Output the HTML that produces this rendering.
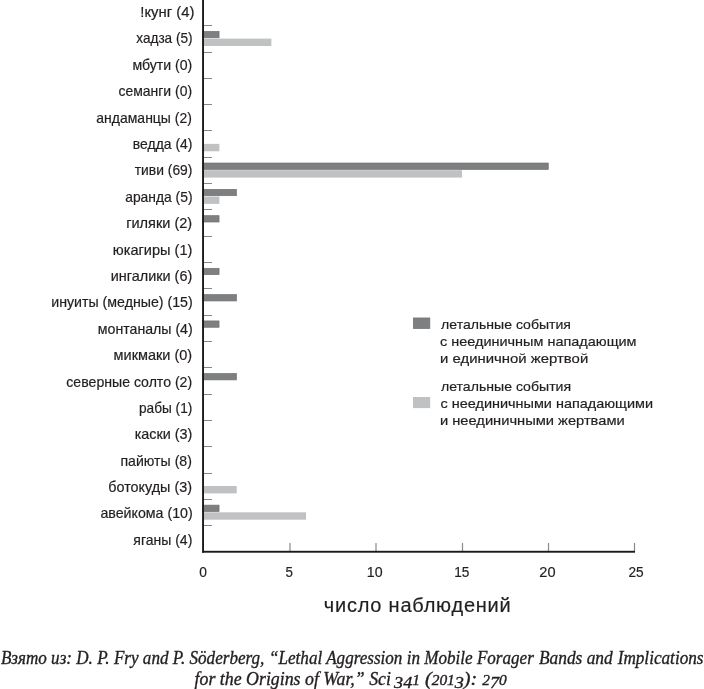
<!DOCTYPE html>
<html><head><meta charset="utf-8"><style>
html,body{margin:0;padding:0;background:#fff;}
body{width:704px;height:689px;overflow:hidden;position:relative;}
svg{position:absolute;left:0;top:0;will-change:transform;}
text{fill:#231f20;white-space:pre;stroke:#231f20;stroke-width:0.2px;}
.lab{font-family:"Liberation Sans",sans-serif;font-size:14.4px;}
.tk{font-family:"Liberation Sans",sans-serif;font-size:14.5px;}
.ttl{font-family:"Liberation Sans",sans-serif;font-size:20px;}
.lg{font-family:"Liberation Sans",sans-serif;font-size:13.6px;}
.osf{font-size:14px;}
.osd{font-size:16.5px;}
.cap{font-family:"Liberation Serif",serif;font-style:italic;font-size:18.3px;stroke:#231f20;stroke-width:0.35px;}
</style></head><body>
<svg width="704" height="689" viewBox="0 0 704 689">
<rect x="202.42" y="31.45" width="16.63" height="6.33" fill="#7e7f81" stroke="#6f7072" stroke-width="0.7"/>
<rect x="202.42" y="163.03" width="345.82" height="6.33" fill="#7e7f81" stroke="#6f7072" stroke-width="0.7"/>
<rect x="202.42" y="189.35" width="33.95" height="6.33" fill="#7e7f81" stroke="#6f7072" stroke-width="0.7"/>
<rect x="202.42" y="215.67" width="16.63" height="6.33" fill="#7e7f81" stroke="#6f7072" stroke-width="0.7"/>
<rect x="202.42" y="268.30" width="16.63" height="6.33" fill="#7e7f81" stroke="#6f7072" stroke-width="0.7"/>
<rect x="202.42" y="294.61" width="33.95" height="6.33" fill="#7e7f81" stroke="#6f7072" stroke-width="0.7"/>
<rect x="202.42" y="320.93" width="16.63" height="6.33" fill="#7e7f81" stroke="#6f7072" stroke-width="0.7"/>
<rect x="202.42" y="373.56" width="33.95" height="6.33" fill="#7e7f81" stroke="#6f7072" stroke-width="0.7"/>
<rect x="202.42" y="505.14" width="16.63" height="6.33" fill="#7e7f81" stroke="#6f7072" stroke-width="0.7"/>
<rect x="202.07" y="38.61" width="69.30" height="7.39" fill="#c0c1c3"/>
<rect x="202.07" y="143.88" width="17.33" height="7.39" fill="#c0c1c3"/>
<rect x="202.07" y="170.19" width="259.89" height="7.39" fill="#c0c1c3"/>
<rect x="202.07" y="196.51" width="17.33" height="7.39" fill="#c0c1c3"/>
<rect x="202.07" y="485.99" width="34.65" height="7.39" fill="#c0c1c3"/>
<rect x="202.07" y="512.30" width="103.96" height="7.39" fill="#c0c1c3"/>
<rect x="204" y="25" width="8" height="1" fill="#888"/>
<rect x="204" y="52" width="8" height="1" fill="#888"/>
<rect x="204" y="78" width="8" height="1" fill="#888"/>
<rect x="204" y="104" width="8" height="1" fill="#888"/>
<rect x="204" y="130" width="8" height="1" fill="#888"/>
<rect x="204" y="157" width="8" height="1" fill="#888"/>
<rect x="204" y="183" width="8" height="1" fill="#888"/>
<rect x="204" y="209" width="8" height="1" fill="#888"/>
<rect x="204" y="236" width="8" height="1" fill="#888"/>
<rect x="204" y="262" width="8" height="1" fill="#888"/>
<rect x="204" y="288" width="8" height="1" fill="#888"/>
<rect x="204" y="315" width="8" height="1" fill="#888"/>
<rect x="204" y="341" width="8" height="1" fill="#888"/>
<rect x="204" y="367" width="8" height="1" fill="#888"/>
<rect x="204" y="394" width="8" height="1" fill="#888"/>
<rect x="204" y="420" width="8" height="1" fill="#888"/>
<rect x="204" y="446" width="8" height="1" fill="#888"/>
<rect x="204" y="473" width="8" height="1" fill="#888"/>
<rect x="204" y="499" width="8" height="1" fill="#888"/>
<rect x="204" y="525" width="8" height="1" fill="#888"/>
<rect x="289.40" y="543" width="1.2" height="8" fill="#8a8a8a"/>
<rect x="375.40" y="543" width="1.2" height="8" fill="#8a8a8a"/>
<rect x="461.90" y="543" width="1.2" height="8" fill="#8a8a8a"/>
<rect x="547.90" y="543" width="1.2" height="8" fill="#8a8a8a"/>
<rect x="633.90" y="543" width="1.2" height="8" fill="#8a8a8a"/>
<rect x="202.1" y="0" width="1.9" height="552.7" fill="#1a1a1a"/>
<rect x="202.1" y="550.8" width="432.9" height="1.9" fill="#1a1a1a"/>
<rect x="413.35" y="317.95" width="16.5" height="10.6" fill="#7e7f81" stroke="#6f7072" stroke-width="0.7"/>
<rect x="413" y="397" width="17.2" height="11.1" fill="#c0c1c3"/>
<text id="l0" class="lab" x="140.32" y="17.05" textLength="54.17" lengthAdjust="spacingAndGlyphs">!кунг (4)</text>
<text id="l1" class="lab" x="136.30" y="43.44" textLength="56.22" lengthAdjust="spacingAndGlyphs">хадза (5)</text>
<text id="l2" class="lab" x="132.42" y="69.83" textLength="59.81" lengthAdjust="spacingAndGlyphs">мбути (0)</text>
<text id="l3" class="lab" x="118.44" y="96.22" textLength="73.66" lengthAdjust="spacingAndGlyphs">семанги (0)</text>
<text id="l4" class="lab" x="96.35" y="122.61" textLength="95.53" lengthAdjust="spacingAndGlyphs">андаманцы (2)</text>
<text id="l5" class="lab" x="132.87" y="149.00" textLength="59.57" lengthAdjust="spacingAndGlyphs">ведда (4)</text>
<text id="l6" class="lab" x="134.79" y="175.39" textLength="57.64" lengthAdjust="spacingAndGlyphs">тиви (69)</text>
<text id="l7" class="lab" x="125.20" y="201.78" textLength="67.32" lengthAdjust="spacingAndGlyphs">аранда (5)</text>
<text id="l8" class="lab" x="126.16" y="228.17" textLength="66.02" lengthAdjust="spacingAndGlyphs">гиляки (2)</text>
<text id="l9" class="lab" x="112.88" y="254.56" textLength="79.48" lengthAdjust="spacingAndGlyphs">юкагиры (1)</text>
<text id="l10" class="lab" x="110.74" y="280.95" textLength="81.47" lengthAdjust="spacingAndGlyphs">ингалики (6)</text>
<text id="l11" class="lab" x="51.24" y="307.34" textLength="141.49" lengthAdjust="spacingAndGlyphs">инуиты (медные) (15)</text>
<text id="l12" class="lab" x="97.84" y="333.73" textLength="94.87" lengthAdjust="spacingAndGlyphs">монтаналы (4)</text>
<text id="l13" class="lab" x="113.60" y="360.12" textLength="78.54" lengthAdjust="spacingAndGlyphs">микмаки (0)</text>
<text id="l14" class="lab" x="66.32" y="386.51" textLength="125.85" lengthAdjust="spacingAndGlyphs">северные солто (2)</text>
<text id="l15" class="lab" x="139.04" y="412.90" textLength="53.26" lengthAdjust="spacingAndGlyphs">рабы (1)</text>
<text id="l16" class="lab" x="134.68" y="439.29" textLength="57.69" lengthAdjust="spacingAndGlyphs">каски (3)</text>
<text id="l17" class="lab" x="120.49" y="465.68" textLength="71.40" lengthAdjust="spacingAndGlyphs">пайюты (8)</text>
<text id="l18" class="lab" x="108.27" y="492.07" textLength="83.74" lengthAdjust="spacingAndGlyphs">ботокуды (3)</text>
<text id="l19" class="lab" x="100.43" y="518.46" textLength="92.30" lengthAdjust="spacingAndGlyphs">авейкома (10)</text>
<text id="l20" class="lab" x="133.36" y="544.85" textLength="58.95" lengthAdjust="spacingAndGlyphs">яганы (4)</text>
<text id="t0" class="tk" x="199.36" y="576.80" textLength="7.67" lengthAdjust="spacingAndGlyphs">0</text>
<text id="t5" class="tk" x="285.49" y="576.80" textLength="7.41" lengthAdjust="spacingAndGlyphs">5</text>
<text id="t10" class="tk" x="366.86" y="576.80" textLength="15.80" lengthAdjust="spacingAndGlyphs">10</text>
<text id="t15" class="tk" x="454.24" y="576.80" textLength="15.25" lengthAdjust="spacingAndGlyphs">15</text>
<text id="t20" class="tk" x="539.36" y="576.80" textLength="16.20" lengthAdjust="spacingAndGlyphs">20</text>
<text id="t25" class="tk" x="628.38" y="576.80" textLength="15.22" lengthAdjust="spacingAndGlyphs">25</text>
<text id="title" class="ttl" x="323.77" y="611.70" textLength="186.97" lengthAdjust="spacing">число наблюдений</text>
<text id="g1a" class="lg" x="441.13" y="328.80" textLength="129.87" lengthAdjust="spacingAndGlyphs">летальные события</text>
<text id="g1b" class="lg" x="439.94" y="345.80" textLength="196.62" lengthAdjust="spacingAndGlyphs">с неединичным нападающим</text>
<text id="g1c" class="lg" x="440.14" y="362.80" textLength="148.10" lengthAdjust="spacingAndGlyphs">и единичной жертвой</text>
<text id="g2a" class="lg" x="440.98" y="391.00" textLength="130.15" lengthAdjust="spacingAndGlyphs">летальные события</text>
<text id="g2b" class="lg" x="440.52" y="408.10" textLength="212.51" lengthAdjust="spacingAndGlyphs">с неединичными нападающими</text>
<text id="g2c" class="lg" x="439.96" y="425.00" textLength="184.77" lengthAdjust="spacingAndGlyphs">и неединичными жертвами</text>
<text id="cap1a" class="cap" x="0.90" y="663.60" textLength="263.47" lengthAdjust="spacingAndGlyphs">Взято из: D. P. Fry and P. Söderberg,</text>
<text id="cap1b" class="cap" x="269.04" y="663.60" textLength="264.79" lengthAdjust="spacingAndGlyphs">“Lethal Aggression in Mobile Forager</text>
<text id="cap1c" class="cap" x="538.94" y="663.60" textLength="73.78" lengthAdjust="spacingAndGlyphs">Bands and</text>
<text id="cap1d" class="cap" x="617.67" y="663.60" textLength="85.88" lengthAdjust="spacingAndGlyphs">Implications</text>
<text id="cap2" class="cap" x="194.62" y="684.50" textLength="196.35" lengthAdjust="spacingAndGlyphs">for the Origins of War,” Sci</text>
<text id="cap3" class="cap" x="394.08" y="684.50" textLength="112.75" lengthAdjust="spacingAndGlyphs"><tspan class="osd" dy="3.2">3</tspan><tspan class="osd">4</tspan><tspan class="osf" dy="-3.2">1</tspan> (<tspan class="osf">2</tspan><tspan class="osf">0</tspan><tspan class="osf">1</tspan><tspan class="osd" dy="3.2">3</tspan><tspan dy="-3.2">)</tspan>: <tspan class="osf">2</tspan><tspan class="osd" dy="3.2">7</tspan><tspan class="osf" dy="-3.2">0</tspan></text>
</svg>
</body></html>
